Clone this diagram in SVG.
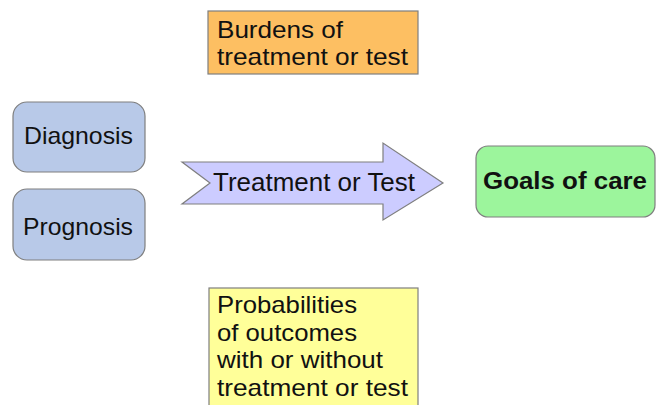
<svg xmlns="http://www.w3.org/2000/svg" width="657" height="405" viewBox="0 0 657 405">
<style>
.box{stroke:#7f7f7f;stroke-width:1.2}
.t{font-family:"Liberation Sans",Arial,sans-serif;font-size:24px;fill:#111}
.b{font-weight:bold;font-size:24px}
.big{font-size:25px}
</style>
<rect width="657" height="405" fill="#ffffff"/>
<g id="connectors"></g>
<g id="burdens">
<rect class="box" x="208" y="11" width="210" height="63" fill="#fdbf62"/>
<text class="t" x="217" y="37.5" textLength="126" lengthAdjust="spacingAndGlyphs">Burdens of</text>
<text class="t" x="217" y="65" textLength="191" lengthAdjust="spacingAndGlyphs">treatment or test</text>
</g>
<g id="diagnosis">
<rect class="box" x="13" y="102" width="132" height="70" rx="14" fill="#b8c9e8"/>
<text class="t" x="24" y="144" textLength="109" lengthAdjust="spacingAndGlyphs">Diagnosis</text>
</g>
<g id="prognosis">
<rect class="box" x="13" y="189" width="132" height="71" rx="14" fill="#b8c9e8"/>
<text class="t" x="23" y="235" textLength="110" lengthAdjust="spacingAndGlyphs">Prognosis</text>
</g>
<g id="treatment">
<polygon class="box" points="182,162 383,162 383,143 443,183 383,220 383,204 182,204 210,183" fill="#ccccff"/>
<text class="t big" x="213" y="191" textLength="202" lengthAdjust="spacingAndGlyphs">Treatment or Test</text>
</g>
<g id="goals">
<rect class="box" x="476" y="146" width="179" height="71" rx="12" fill="#9cf59c"/>
<text class="t b" x="483" y="189" textLength="164" lengthAdjust="spacingAndGlyphs">Goals of care</text>
</g>
<g id="probabilities">
<rect class="box" x="209" y="288" width="209" height="130" fill="#ffff99"/>
<text class="t" x="217" y="313" textLength="140" lengthAdjust="spacingAndGlyphs">Probabilities</text>
<text class="t" x="217" y="340.5" textLength="140" lengthAdjust="spacingAndGlyphs">of outcomes</text>
<text class="t" x="217" y="368" textLength="166" lengthAdjust="spacingAndGlyphs">with or without</text>
<text class="t" x="217" y="395.5" textLength="191" lengthAdjust="spacingAndGlyphs">treatment or test</text>
</g>
</svg>
